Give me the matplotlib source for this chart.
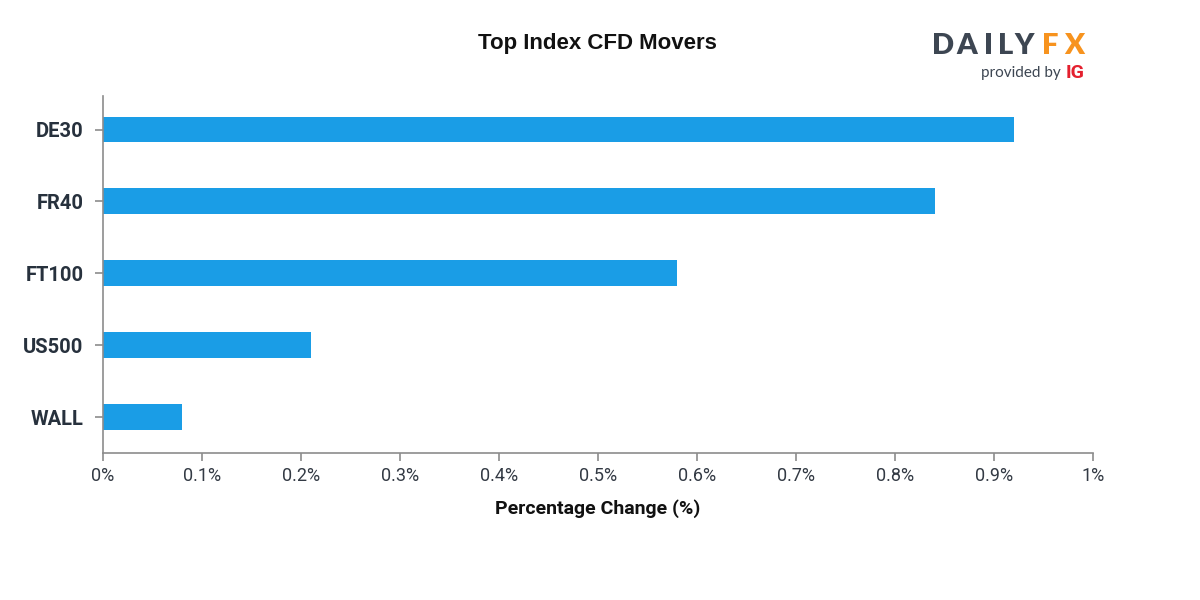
import matplotlib
matplotlib.use("Agg")
import matplotlib.pyplot as plt
from matplotlib.ticker import FuncFormatter

categories = ["DE30", "FR40", "FT100", "US500", "WALL"]
values = [0.92, 0.84, 0.58, 0.21, 0.08]
xticks = [0, 0.1, 0.2, 0.3, 0.4, 0.5, 0.6, 0.7, 0.8, 0.9, 1.0]

plt.rcParams['font.family'] = ['Roboto', 'DejaVu Sans']

fig = plt.figure(figsize=(12, 6), dpi=100)
W, H = 1200, 600
left, right, top, bottom = 103, 1093, 96, 453
ax = fig.add_axes([left / W, 1 - bottom / H, (right - left) / W, (bottom - top) / H])

ypos = list(range(len(categories)))
ax.barh(ypos, values, height=0.36, color="#1a9de6", edgecolor="none")
ax.set_xlim(0, 1.0)
ax.set_ylim(4.5, -0.466)
ax.set_yticks(ypos)
ax.set_yticklabels(categories, fontsize=14.5, fontweight="bold", color="#27313d")
ax.set_xticks(xticks)
ax.xaxis.set_major_formatter(FuncFormatter(lambda v, p: f"{v:g}%"))
for lab in ax.get_xticklabels():
    lab.set_fontsize(13)
    lab.set_color("#333a44")

for s in ["top", "right"]:
    ax.spines[s].set_visible(False)
for s in ["left", "bottom"]:
    ax.spines[s].set_color("#8c8c8c")
    ax.spines[s].set_linewidth(1.2)
ax.tick_params(axis="both", color="#8c8c8c", length=6, width=1.2)
ax.tick_params(axis="x", pad=4)
ax.tick_params(axis="y", pad=8)

ax.set_xlabel("Percentage Change (%)", fontsize=14, fontweight="bold", color="#111111", labelpad=10)

fig.text(597 / W, 1 - 44 / H, "Top Index CFD Movers", ha="center", va="center",
         fontsize=16, fontweight="bold", color="#111111", family=["Liberation Sans", "DejaVu Sans"])

# Logo with letter spacing
logo_letters = ["D", "A", "I", "L", "Y", "F", "X"]
logo_x = [943, 967, 989, 1006, 1024, 1050, 1074]
logo_colors = ["#3d4652"] * 5 + ["#f7931e"] * 2
for ch, x, c in zip(logo_letters, logo_x, logo_colors):
    fig.text(x / W, 1 - 46 / H, ch, ha="center", va="center", fontsize=21,
             fontweight="heavy", color=c, family=["Lato", "DejaVu Sans"])
fig.text(1061 / W, 1 - 73 / H, "provided by", ha="right", va="center", fontsize=11,
         color="#3d4652", family=["Lato", "DejaVu Sans"])
fig.text(1066 / W, 1 - 73 / H, "IG", ha="left", va="center", fontsize=14,
         fontweight="bold", color="#e4202e")

fig.savefig("out.png", dpi=100, facecolor="white")
